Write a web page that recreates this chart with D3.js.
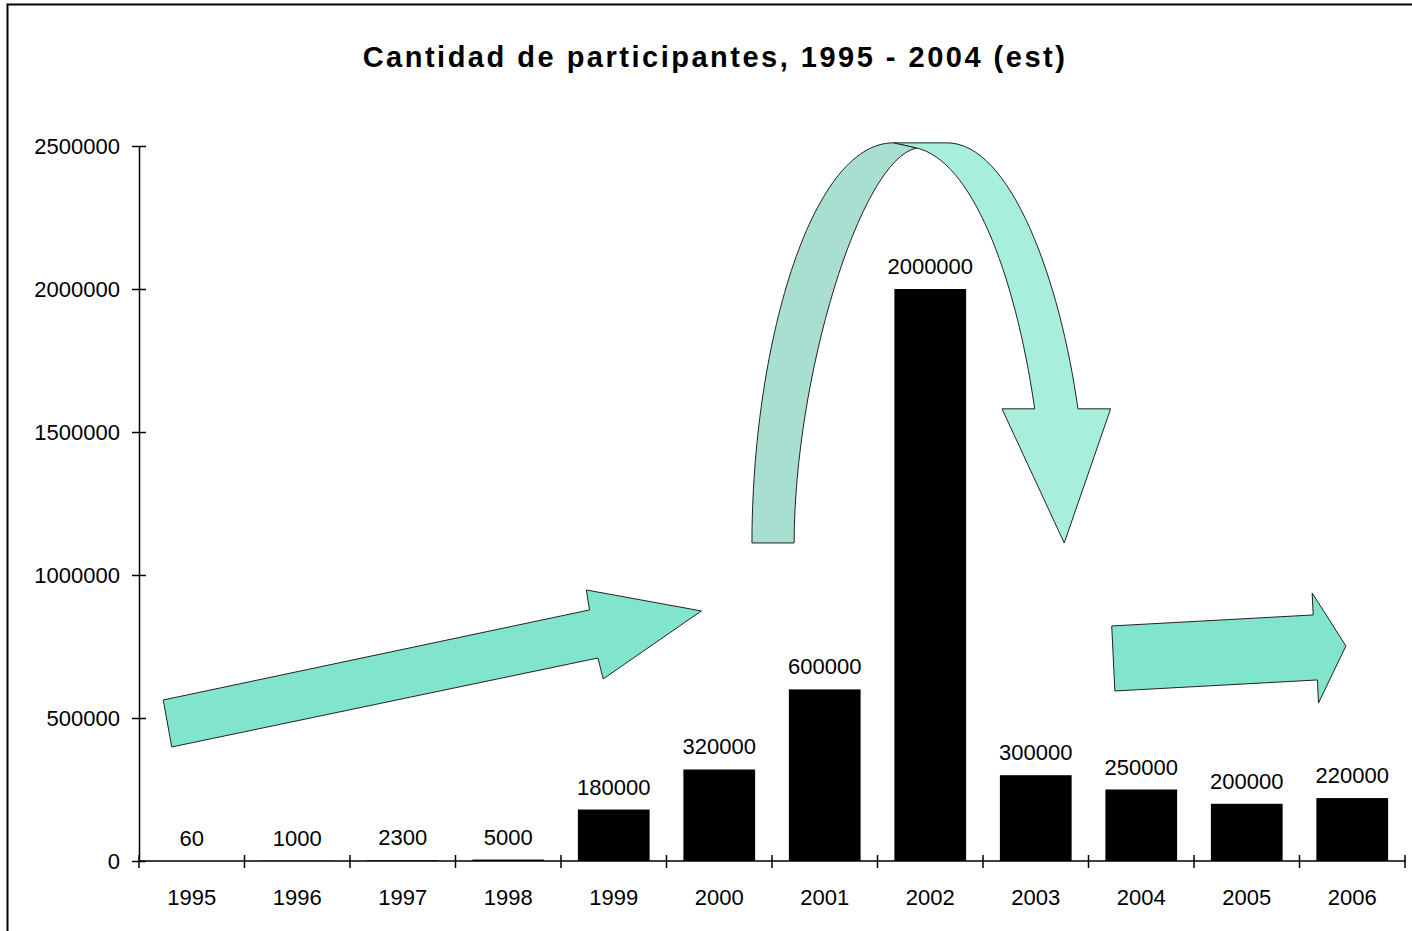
<!DOCTYPE html>
<html>
<head>
<meta charset="utf-8">
<script src="https://cdn.jsdelivr.net/npm/d3@7"></script>
<style>
body { margin:0; background:#fff; }
text { font-family: "Liberation Sans", Arial, sans-serif; }
</style>
</head>
<body>
<script>
// Participants per year
const years = ["1995","1996","1997","1998","1999","2000","2001","2002","2003","2004","2005","2006"];
const participants = [60, 1000, 2300, 5000, 180000, 320000, 600000, 2000000, 300000, 250000, 200000, 220000];
const yTicks = [0, 500000, 1000000, 1500000, 2000000, 2500000];
const titleText = "Cantidad de participantes, 1995 - 2004 (est)";

// Decorative arrows, in chart units: [category position, value]
const riseArrow = [[0.23,563000],[4.27,877800],[4.24,947700],[5.33,874300],[4.40,636500],[4.35,709900],[0.31,398700]];
const flatArrow = [[9.22,821800],[11.13,860300],[11.12,937200],[11.44,751900],[11.18,552500],[11.17,633000],[9.25,594500]];

const width = 1412;
const height = 931;
const margin = {top:146, right:7, bottom:70, left:139};

const svg = d3.select("body")
.append("svg")
.attr("width", width)
.attr("height", height);

// outer frame (runs past right and bottom edges)
svg.append("rect")
.attr("x", 7.5).attr("y", 4.5)
.attr("width", width).attr("height", height)
.attr("fill", "none")
.attr("stroke", "#000")
.attr("stroke-width", 2);

const x = d3.scaleBand()
.domain(years)
.range([margin.left, width - margin.right])
.paddingInner(0.32)
.paddingOuter(0.16);

// continuous position across the categories (0..12)
const xPos = d3.scaleLinear()
.domain([0, years.length])
.range([margin.left, width - margin.right]);

const y = d3.scaleLinear()
.domain([0, 2500000])
.range([height - margin.bottom, margin.top]);

const pt = function(d){ return [xPos(d[0]), y(d[1])]; };

// Title
svg.append("text")
.attr("x", 715)
.attr("y", 67)
.attr("text-anchor", "middle")
.attr("font-size", "29px")
.attr("font-weight", "bold")
.attr("letter-spacing", "2.5px")
.text(titleText);

// Y axis
const yAxis = svg.append("g")
.attr("transform", "translate(" + margin.left + ",0)")
.call(d3.axisLeft(y).tickValues(yTicks).tickFormat(d3.format("d")).tickSizeOuter(0).tickPadding(13));
yAxis.select(".domain").attr("stroke-width", 1.5);
yAxis.selectAll(".tick line").attr("x1", 7).attr("x2", -7).attr("stroke-width", 1.5);
yAxis.selectAll(".tick text")
.attr("font-size", "22px")
.attr("font-family", "Liberation Sans, Arial, sans-serif")
.attr("fill", "#000");

// Bars
svg.selectAll("rect.bar")
.data(participants)
.enter()
.append("rect")
.attr("class", "bar")
.attr("x", function(d,i){ return x(years[i]); })
.attr("y", function(d){ return y(d); })
.attr("width", x.bandwidth())
.attr("height", function(d){ return y(0) - y(d); })
.attr("fill", "#000");

// X axis line and boundary ticks
svg.append("line")
.attr("x1", xPos(0)).attr("x2", xPos(years.length) + 1)
.attr("y1", y(0)).attr("y2", y(0))
.attr("stroke", "#000").attr("stroke-width", 1.5);

svg.selectAll("line.xtick")
.data(d3.range(years.length + 1))
.enter()
.append("line")
.attr("class", "xtick")
.attr("x1", function(d){ return xPos(d); })
.attr("x2", function(d){ return xPos(d); })
.attr("y1", y(0) - 6)
.attr("y2", y(0) + 7)
.attr("stroke", "#000")
.attr("stroke-width", 1.5);

svg.selectAll("text.xlabel")
.data(years)
.enter()
.append("text")
.attr("class", "xlabel")
.attr("x", function(d){ return x(d) + x.bandwidth()/2; })
.attr("y", y(0) + 44)
.attr("text-anchor", "middle")
.attr("font-size", "22px")
.text(function(d){ return d; });

// Value labels
svg.selectAll("text.vlabel")
.data(participants)
.enter()
.append("text")
.attr("class", "vlabel")
.attr("x", function(d,i){ return x(years[i]) + x.bandwidth()/2; })
.attr("y", function(d){ return y(d) - 15; })
.attr("text-anchor", "middle")
.attr("font-size", "22px")
.text(function(d){ return d; });

// Arrows
const line = d3.line();

svg.append("path")
.attr("d", line(riseArrow.map(pt)) + "Z")
.attr("fill", "#80E5CC")
.attr("stroke", "#222")
.attr("stroke-width", 1);

svg.append("path")
.attr("d", line(flatArrow.map(pt)) + "Z")
.attr("fill", "#80E5CC")
.attr("stroke", "#222")
.attr("stroke-width", 1);

// curved arrow over 2002: light (front) band, then darker back band
const P = function(p, v){ const q = pt([p, v]); return q[0] + "," + q[1]; };

const lightBand = "M" + P(7.15,2511000) +
" L" + P(7.66,2511000) +
" C" + P(8.26,2511000) + " " + P(8.73,2032000) + " " + P(8.90,1581000) +
" L" + P(9.21,1581000) +
" L" + P(8.77,1112000) +
" L" + P(8.18,1581000) +
" L" + P(8.49,1581000) +
" C" + P(8.30,2067000) + " " + P(7.88,2451000) + " " + P(7.37,2493000) +
" Z";

const darkBand = "M" + P(5.81,1112000) +
" C" + P(5.81,1787000) + " " + P(6.36,2511000) + " " + P(7.15,2511000) +
" L" + P(7.37,2493000) +
" C" + P(6.83,2451000) + " " + P(6.21,1682000) + " " + P(6.21,1112000) +
" Z";

svg.append("path")
.attr("d", lightBand)
.attr("fill", "#A8EEDD")
.attr("stroke", "#222")
.attr("stroke-width", 1);

svg.append("path")
.attr("d", darkBand)
.attr("fill", "#A8DFD0")
.attr("stroke", "#222")
.attr("stroke-width", 1);
</script>
</body>
</html>
